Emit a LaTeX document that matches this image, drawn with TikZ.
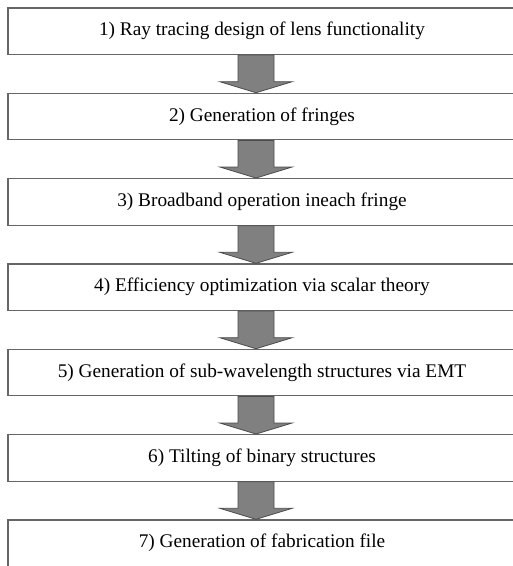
\documentclass[tikz,border=0pt]{standalone}
\usepackage{fontspec}
\setmainfont{Liberation Serif}
\usetikzlibrary{calc}
\tikzstyle{stepbox}=[rectangle,draw=black!60,line width=1.2pt,fill=white,minimum width=508pt,minimum height=46.5pt,inner sep=0pt,font=\fontsize{19.3}{22}\selectfont]
\tikzstyle{flowarrow}=[draw=black!70,fill=black!50,line width=0.8pt]

\begin{document}
\begin{tikzpicture}[x=1pt,y=1pt]
    \useasboundingbox (0,0) rectangle (513,566);
    \coordinate (axis) at (256,0);

    % the seven design steps
    \foreach \pos/\name/\text in {{(262,534.75)/s1/{1) Ray tracing design of lens functionality}},
        {(262,449.4)/s2/{2) Generation of fringes}},
        {(262,364.1)/s3/{3) Broadband operation ineach fringe}},
        {(262,278.8)/s4/{4) Efficiency optimization via scalar theory}},
        {(262,193.4)/s5/{5) Generation of sub-wavelength structures via EMT}},
        {(262,108.1)/s6/{6) Tilting of binary structures}},
        {(262,22.8)/s7/{7) Generation of fabrication file}}}
        \node[stepbox] (\name) at \pos {\text};

    % block arrows between the steps
    \foreach \source/ \dest in {s1/s2, s2/s3, s3/s4, s4/s5, s5/s6, s6/s7}
        \path[flowarrow] ($(\source.south -| axis)+(-18,0)$) -- ($(\dest.north -| axis)+(-18,11)$)
            -- ($(\dest.north -| axis)+(-36,11)$) -- (\dest.north -| axis)
            -- ($(\dest.north -| axis)+(36,11)$) -- ($(\dest.north -| axis)+(18,11)$)
            -- ($(\source.south -| axis)+(18,0)$) -- cycle;

\end{tikzpicture}
\end{document}
